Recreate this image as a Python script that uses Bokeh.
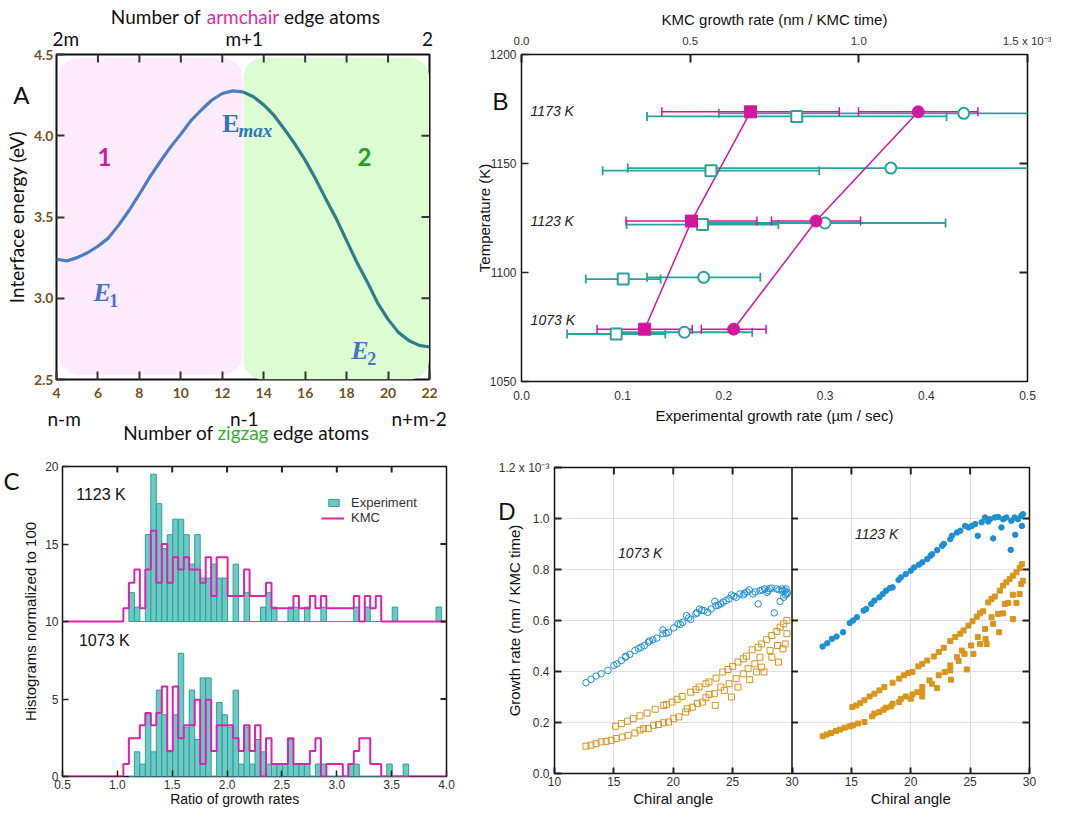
import math
from bokeh.plotting import figure
from bokeh.models import (Range1d, LinearAxis, FixedTicker, Label, BoxAnnotation, Span, Legend,
                          LegendItem, PrintfTickFormatter)
from bokeh.layouts import row, column
from bokeh.embed import file_html
from bokeh.resources import INLINE

# ======================= DATA =======================
# ---- Panel A : interface energy vs number of zigzag edge atoms
a_zigzag = [4, 4.5, 5, 5.5, 6, 6.5, 7, 7.5, 8, 8.5, 9, 9.5, 10, 10.5, 11, 11.5, 12, 12.5,
            13, 13.5, 14, 14.5, 15, 15.5, 16, 16.5, 17, 17.5, 18, 18.5, 19, 19.5, 20,
            20.5, 21, 21.5, 22]
a_energy = [3.24, 3.23, 3.25, 3.28, 3.32, 3.37, 3.45, 3.54, 3.64, 3.745, 3.84, 3.93, 4.01,
            4.095, 4.16, 4.22, 4.26, 4.276, 4.27, 4.24, 4.19, 4.125, 4.04, 3.95, 3.85,
            3.735, 3.61, 3.49, 3.355, 3.22, 3.10, 2.97, 2.87, 2.79, 2.74, 2.71, 2.70]
a_xticks = [4, 6, 8, 10, 12, 14, 16, 18, 20, 22]
a_yticks = [2.5, 3.0, 3.5, 4.0, 4.5]
a_top_labels = ["2m", "m+1", "2"]
a_bottom_labels = ["n-m", "n-1", "n+m-2"]

# ---- Panel B : growth rate vs temperature
b_exp_sq_rate = [0.0936, 0.1005, 0.1788, 0.1872, 0.272]
b_exp_sq_T = [1071.8, 1097.0, 1122.0, 1146.7, 1171.6]
b_exp_sq_err = [0.0485, 0.037, 0.075, 0.107, 0.148]
b_exp_ci_rate = [0.161, 0.18, 0.30, 0.365, 0.437]
b_exp_ci_T = [1072.6, 1097.8, 1122.7, 1147.9, 1173.0]
b_exp_ci_err = [0.067, 0.056, 0.119, 0.26, 0.242]
b_kmc_sq_rate = [0.365, 0.504, 0.679]          # x 1e-3 nm / KMC time
b_kmc_sq_T = [1074.0, 1123.6, 1173.7]
b_kmc_sq_err = [0.141, 0.194, 0.263]
b_kmc_ci_rate = [0.629, 0.873, 1.176]
b_kmc_ci_T = [1074.0, 1123.6, 1173.7]
b_kmc_ci_err = [0.096, 0.132, 0.177]
b_temp_labels = ["1173 K", "1123 K", "1073 K"]
b_temp_label_T = [1174.2, 1123.8, 1078.0]

# ---- Panel C : histograms of growth-rate ratios
c_exp_bins = [1.13, 1.18, 1.23, 1.28, 1.33, 1.38, 1.43, 1.48, 1.53, 1.58,
              1.63, 1.68, 1.73, 1.78, 1.83, 1.88, 1.93, 1.98, 2.03, 2.08,
              2.13, 2.18, 2.23, 2.28, 2.33, 2.38, 2.43, 2.48, 2.53, 2.58,
              2.63, 2.68, 2.73, 2.78, 2.83, 2.88, 2.93, 2.98, 3.03, 3.08,
              3.13, 3.18, 3.23, 3.28, 3.33, 3.38, 3.43, 3.48, 3.53, 3.58,
              3.63, 3.68, 3.73, 3.78, 3.83, 3.88, 3.93]
c_exp_1123 = [1.86, 0.93, 0, 5.6, 9.5, 7.6, 4.7, 5.6, 6.6, 6.6,
              5.6, 3.7, 5.6, 2.8, 2.8, 3.7, 2.8, 2.8, 0, 3.7,
              0, 1.86, 0, 0, 0.93, 1.86, 0.93, 0, 0, 0.93,
              0.93, 0, 0.93, 0, 0, 0.93, 0, 0, 0, 0,
              0, 0.93, 0, 0.93, 0, 0, 0, 0, 0.93, 0,
              0, 0, 0, 0, 0, 0, 0.93]
c_exp_1073 = [0, 1.59, 0.8, 3.98, 1.59, 5.57, 3.98, 1.59, 3.98, 7.95,
              3.18, 5.57, 2.39, 6.36, 6.36, 0, 4.77, 3.98, 3.18, 5.57,
              0.8, 3.18, 0.8, 2.39, 1.59, 0.8, 0.8, 0.8, 0.8, 2.39,
              0.8, 0.8, 0.8, 0, 0.8, 0.8, 0, 0, 0, 0,
              0.8, 0.8, 0, 0, 0, 0, 0, 0.8, 0, 0,
              0.8]
c_kmc_bins = [1.08, 1.13, 1.18, 1.23, 1.28, 1.33, 1.38, 1.43, 1.48, 1.53, 1.58,
              1.63, 1.68, 1.73, 1.78, 1.83, 1.88, 1.93, 1.98, 2.03, 2.08,
              2.13, 2.18, 2.23, 2.28, 2.33, 2.38, 2.43, 2.48, 2.53, 2.58,
              2.63, 2.68, 2.73, 2.78, 2.83, 2.88, 2.93, 2.98, 3.03, 3.08,
              3.13, 3.18, 3.23, 3.28, 3.33, 3.38]
c_kmc_1123 = [0.85, 2.5, 3.35, 0.85, 3.35, 5.85, 2.5, 5.0, 2.5, 4.15, 3.35,
              4.15, 3.35, 3.35, 2.5, 4.15, 1.65, 4.15, 4.15, 1.65, 1.65,
              1.65, 3.35, 1.65, 1.65, 1.65, 2.5, 0.85, 0.85, 0.85, 0.85,
              1.65, 0.85, 0.85, 1.65, 0.85, 1.65, 0.85, 0.85, 0.85, 0.85,
              0.85, 1.65, 0, 1.65, 0.85, 1.65]
c_kmc_1073 = [0.8, 2.47, 2.47, 3.3, 4.1, 3.3, 4.1, 5.8, 1.65, 5.8, 2.47,
              3.3, 3.3, 4.95, 0.8, 4.95, 1.65, 3.3, 3.3, 3.3, 2.47,
              1.65, 3.3, 1.65, 3.3, 0, 2.47, 0.8, 0.8, 0.8, 2.47,
              0.8, 0.8, 0.8, 1.65, 2.47, 0, 0.8, 0.8, 0.8, 0,
              0.8, 1.65, 2.47, 2.47, 0.8, 0.8]
c_offset_1123 = 10

# ---- Panel D : growth rate vs chiral angle (x 1e-3 nm / KMC time)
d1_ci_x = [12.65, 13.07, 13.5, 13.93, 14.5, 15.0, 15.26, 15.63, 15.97, 16.34, 16.77, 17.06,
           17.57, 17.9, 18.28, 18.62, 19.13, 19.13, 19.6, 20.04, 20.4, 20.8, 21.12, 21.47,
           21.9, 22.2, 22.6, 22.9, 23.5, 23.6, 24.0, 24.45, 24.9, 25.3, 25.6, 26.0, 26.4,
           26.7, 27.15, 27.3, 27.7, 28.0, 28.3, 28.5, 28.7, 29.0, 29.15, 29.4, 29.57, 29.5,
           29.3, 16.0, 17.3, 18.0, 19.4, 20.6, 21.3, 22.0, 22.4, 23.2, 23.8, 24.2, 24.7,
           25.1, 25.9, 26.2, 26.9, 27.5, 27.9, 28.1, 28.9, 29.2, 29.6, 29.45]
d1_ci_y = [0.356, 0.369, 0.382, 0.391, 0.404, 0.424, 0.43, 0.443, 0.456, 0.467, 0.482, 0.49,
           0.502, 0.515, 0.524, 0.531, 0.548, 0.563, 0.554, 0.571, 0.587, 0.593, 0.619, 0.604,
           0.626, 0.645, 0.639, 0.632, 0.675, 0.658, 0.665, 0.678, 0.70, 0.691, 0.704, 0.707,
           0.72, 0.704, 0.665, 0.717, 0.724, 0.717, 0.727, 0.63, 0.724, 0.675, 0.724, 0.717,
           0.704, 0.724, 0.691, 0.46, 0.495, 0.52, 0.55, 0.585, 0.61, 0.63, 0.64, 0.645,
           0.66, 0.672, 0.685, 0.695, 0.70, 0.712, 0.712, 0.72, 0.71, 0.725, 0.72, 0.715,
           0.71, 0.70]
d1_sq_up_x = [15.15, 15.63, 16.15, 16.63, 17.2, 17.8, 18.48, 19.19, 19.42, 19.9, 20.33, 20.75,
              21.47, 21.9, 22.18, 22.75, 23.0, 23.6, 24.17, 24.6, 25.0, 25.45, 25.9, 26.16,
              26.64, 27.15, 27.44, 27.87, 28.3, 28.72, 29.0, 29.3, 29.57]
d1_sq_up_y = [0.185, 0.196, 0.205, 0.215, 0.226, 0.237, 0.252, 0.267, 0.271, 0.28, 0.291, 0.302,
              0.319, 0.329, 0.339, 0.352, 0.359, 0.374, 0.398, 0.408, 0.42, 0.437, 0.45, 0.46,
              0.485, 0.495, 0.508, 0.525, 0.541, 0.557, 0.574, 0.587, 0.6]
d1_sq_lo_x = [12.65, 13.07, 13.5, 13.93, 14.35, 14.78, 15.2, 15.69, 16.2, 16.77, 17.2, 17.48,
              17.9, 18.33, 18.76, 19.19, 19.6, 20.04, 20.47, 21.04, 21.18, 21.6, 22.03, 22.46,
              22.75, 23.03, 23.46, 23.54, 24.0, 24.3, 24.7, 24.9, 25.3, 25.45, 25.9, 26.3,
              26.44, 26.87, 27.0, 27.3, 27.44, 27.64, 28.15, 28.3, 28.78, 28.86, 29.23, 29.43,
              29.57]
d1_sq_lo_y = [0.107, 0.111, 0.117, 0.124, 0.126, 0.13, 0.137, 0.143, 0.15, 0.159, 0.17, 0.176,
              0.176, 0.189, 0.192, 0.199, 0.202, 0.215, 0.222, 0.241, 0.254, 0.26, 0.274, 0.28,
              0.297, 0.31, 0.313, 0.267, 0.339, 0.326, 0.352, 0.3, 0.372, 0.339, 0.391, 0.411,
              0.368, 0.43, 0.398, 0.456, 0.417, 0.398, 0.482, 0.456, 0.502, 0.437, 0.489, 0.508,
              0.548]
d2_ci_x = [12.58, 12.97, 13.36, 13.75, 14.3, 14.86, 15.14, 15.47, 16.03, 16.25, 16.67, 16.94,
           17.36, 17.64, 17.92, 18.25, 18.47, 18.97, 19.17, 19.58, 20.0, 20.28, 20.69, 20.97,
           21.39, 21.67, 21.8, 22.22, 22.64, 22.78, 23.33, 23.47, 23.89, 24.17, 24.58, 24.86,
           25.14, 25.42, 25.64, 25.97, 26.25, 26.53, 26.67, 26.94, 27.08, 27.36, 27.64, 27.78,
           28.05, 28.42, 28.47, 28.75, 28.8, 29.03, 29.3, 29.36, 29.44]
d2_ci_y = [0.498, 0.511, 0.528, 0.537, 0.554, 0.59, 0.6, 0.613, 0.639, 0.645, 0.665, 0.678,
           0.691, 0.704, 0.717, 0.727, 0.73, 0.759, 0.769, 0.782, 0.795, 0.808, 0.819, 0.828,
           0.841, 0.854, 0.86, 0.876, 0.893, 0.9, 0.919, 0.932, 0.945, 0.952, 0.971, 0.965,
           0.971, 0.978, 0.932, 0.985, 1.004, 0.988, 0.997, 0.922, 1.004, 1.006, 0.965, 0.997,
           1.004, 0.877, 0.991, 1.004, 0.936, 0.997, 1.01, 0.971, 1.017]
d2_sq_up_x = [15.08, 15.42, 15.75, 16.1, 16.53, 16.94, 17.36, 17.78, 18.47, 19.03, 19.44, 19.8,
              20.14, 20.64, 20.97, 21.39, 21.94, 22.36, 22.78, 23.33, 23.75, 24.17, 24.44,
              24.86, 25.2, 25.56, 25.83, 26.1, 26.53, 26.8, 27.08, 27.5, 27.78, 28.05, 28.33,
              28.6, 28.9, 29.17, 29.36]
d2_sq_up_y = [0.261, 0.267, 0.276, 0.287, 0.302, 0.313, 0.326, 0.339, 0.356, 0.372, 0.385, 0.394,
              0.398, 0.42, 0.43, 0.443, 0.459, 0.476, 0.493, 0.519, 0.535, 0.548, 0.561, 0.58,
              0.597, 0.615, 0.628, 0.636, 0.671, 0.684, 0.694, 0.717, 0.737, 0.75, 0.763, 0.776,
              0.789, 0.806, 0.821]
d2_sq_lo_x = [12.58, 12.92, 13.28, 13.7, 14.03, 14.44, 14.86, 15.14, 15.56, 16.1, 16.75, 16.94,
              17.36, 17.7, 17.92, 18.33, 18.47, 19.03, 19.17, 19.58, 20.0, 20.14, 20.56, 20.97,
              20.97, 20.97, 21.58, 21.8, 22.22, 22.36, 22.86, 23.33, 23.33, 23.39, 23.89, 24.03,
              24.3, 24.53, 24.72, 25.08, 25.28, 25.64, 25.83, 26.25, 26.3, 26.39, 26.8, 26.94,
              27.36, 27.44, 27.78, 27.92, 28.2, 28.6, 28.6, 28.9, 29.17, 29.3, 29.44]
d2_sq_lo_y = [0.146, 0.153, 0.159, 0.167, 0.172, 0.18, 0.185, 0.189, 0.196, 0.202, 0.224, 0.235,
              0.241, 0.25, 0.258, 0.263, 0.274, 0.28, 0.293, 0.302, 0.293, 0.31, 0.319, 0.339,
              0.319, 0.302, 0.365, 0.352, 0.335, 0.385, 0.398, 0.424, 0.404, 0.368, 0.456, 0.441,
              0.482, 0.469, 0.408, 0.502, 0.469, 0.535, 0.508, 0.567, 0.528, 0.508, 0.613, 0.587,
              0.626, 0.554, 0.628, 0.665, 0.669, 0.606, 0.701, 0.669, 0.704, 0.743, 0.756]
d_yticks = [0.0, 0.2, 0.4, 0.6, 0.8, 1.0, 1.2]
d_left_xticks = [10, 15, 20, 25, 30]
d_right_xticks = [15, 20, 25, 30]

# ======================= STYLE =======================
SANS = "Liberation Sans"
CAL = "Lato"
MAG_B = "#d3179c"
TEAL_B = "#2aa39d"
TEAL_FILL = "#66c6c1"
TEAL_LINE = "#2b9f9a"
MAG_C = "#dd22ad"
BLUE_D = "#1e8fd2"
ORANGE_D = "#d9951c"
SUP3 = " x 10\u207b\u00b3"


def new_fig(w, h, xr, yr, bl, br, bt, bb):
    p = figure(width=w, height=h, x_range=xr, y_range=yr, output_backend="svg",
               toolbar_location=None, min_border_left=bl, min_border_right=br,
               min_border_top=bt, min_border_bottom=bb)
    try:
        p.frame_align = False
    except Exception:
        pass
    p.grid.visible = False
    p.background_fill_color = "white"
    p.border_fill_color = "white"
    p.outline_line_color = "#111111"
    p.outline_line_width = 1.5
    return p


def style_ax(ax, font=SANS, size="12px", color="#333333", bold=False, tick_in=6,
             standoff=4, tick_color="#222222", tick_width=1.5):
    ax.axis_line_color = None
    ax.major_tick_in = tick_in
    ax.major_tick_out = 0
    ax.minor_tick_in = 0
    ax.minor_tick_out = 0
    ax.major_tick_line_color = tick_color if tick_in > 0 else None
    ax.major_tick_line_width = tick_width
    ax.minor_tick_line_color = None
    ax.major_label_text_font = font
    ax.major_label_text_font_size = size
    ax.major_label_text_color = color
    ax.major_label_text_font_style = "bold" if bold else "normal"
    ax.major_label_standoff = standoff
    ax.axis_label_text_font = font
    ax.axis_label_text_font_style = "normal"
    ax.axis_label_text_color = "#111111"


def text_axis(ticks, labels, font, size, standoff, color="#111111", **kw):
    ax = LinearAxis(ticker=FixedTicker(ticks=ticks),
                    major_label_overrides=dict(zip(ticks, labels)), **kw)
    style_ax(ax, font=font, size=size, color=color, tick_in=0, standoff=standoff)
    return ax


def edge_ticks(p, xs, ys, vertical, length=7, width=2, color="#222222"):
    # inward tick marks: a dash centred on the frame edge, half of it clipped by the frame
    p.scatter(x=xs, y=ys, marker="dash", angle=math.pi / 2 if vertical else 0,
              size=2 * length, line_color=color, line_width=width)


def lab(p, text, x, y, size="15px", font=SANS, color="#111111", align="center",
        baseline="middle", style="normal", xr="default"):
    p.add_layout(Label(x=x, y=y, text=text, text_font=font, text_font_size=size,
                       text_color=color, text_align=align, text_baseline=baseline,
                       text_font_style=style, x_range_name=xr))


# ======================= PANEL A =======================
pA = new_fig(462, 454, Range1d(4, 22), Range1d(2.5, 4.5), 56, 33, 54, 75)
pA.outline_line_width = 2
pA.add_layout(BoxAnnotation(left=4.12, right=12.98, bottom=2.53, top=4.48, fill_color="#fdebfd",
                            fill_alpha=1, line_color=None, border_radius=20, level="underlay"))
pA.add_layout(BoxAnnotation(left=13.02, right=21.98, bottom=2.5, top=4.48, fill_color="#dcfcd2",
                            fill_alpha=1, line_color=None, border_radius=20, level="underlay"))
i13 = a_zigzag.index(13)
pA.line(a_zigzag[:i13 + 1], a_energy[:i13 + 1], line_color="#4a7ec4", line_width=3.2)
pA.line(a_zigzag[i13:], a_energy[i13:], line_color="#2e7e88", line_width=3.2)
edge_ticks(pA, a_xticks[1:-1], [4.5] * (len(a_xticks) - 2), True, length=8, color="#333333")
edge_ticks(pA, [22] * 3, a_yticks[1:4], False, length=8, color="#333333")

xa = pA.xaxis[0]
xa.ticker = FixedTicker(ticks=a_xticks)
style_ax(xa, font=CAL, size="14px", color="#6f5424", bold=True, tick_in=8, standoff=8,
         tick_color="#333333", tick_width=2)
ya = pA.yaxis[0]
ya.ticker = FixedTicker(ticks=a_yticks)
ya.formatter = PrintfTickFormatter(format="%.1f")
style_ax(ya, font=CAL, size="14px", color="#6f5424", bold=True, tick_in=8, standoff=3,
         tick_color="#333333", tick_width=2)
# panel letter + y title on an outer left axis
ya2 = text_axis([4.254], ["A"], CAL, "24px", 1)
ya2.axis_label = "Interface energy (eV)"
ya2.axis_label_text_font_size = "19px"
ya2.axis_label_standoff = -18
pA.add_layout(ya2, "left")
# bottom: symbolic labels and title ("zigzag" in green)
xa2 = text_axis([4.37, 13.06, 21.5], a_bottom_labels, CAL, "19px", 6)
pA.add_layout(xa2, "below")
xa3 = text_axis([9.40, 16.76], ["Number of", "edge atoms"], CAL, "19px", -12)
xa3.axis_label = "zigzag"
xa3.axis_label_text_font_size = "19px"
xa3.axis_label_text_color = "#2db52d"
xa3.axis_label_standoff = -26
pA.add_layout(xa3, "below")
# top: armchair labels and title ("armchair" in magenta)
ta1 = text_axis([4.45, 13.06, 21.9], a_top_labels, CAL, "19px", 5)
pA.add_layout(ta1, "above")
ta2 = text_axis([8.80, 17.29], ["Number of", "edge atoms"], CAL, "19px", -4)
ta2.axis_label = "armchair"
ta2.axis_label_text_font_size = "19px"
ta2.axis_label_text_color = "#dd2aa8"
ta2.axis_label_standoff = -26
pA.add_layout(ta2, "above")

lab(pA, "1", 6.32, 3.87, size="24px", font=CAL, color="#cc1f9e", style="bold")
lab(pA, "2", 18.86, 3.87, size="24px", font=CAL, color="#22a022", style="bold")
lab(pA, "E", 12.0, 4.075, size="26px", font="Liberation Serif", color="#2e75b6", style="bold",
    align="left")
lab(pA, "max", 12.78, 4.03, size="19px", font="Liberation Serif", color="#2e75b6",
    style="bold italic", align="left")
lab(pA, "E", 5.78, 3.035, size="26px", font="Liberation Serif", color="#4a72c4",
    style="bold italic", align="left")
lab(pA, "1", 6.55, 2.985, size="18px", font="Liberation Serif", color="#4a72c4", style="bold",
    align="left")
lab(pA, "E", 18.22, 2.68, size="26px", font="Liberation Serif", color="#4a72c4",
    style="bold italic", align="left")
lab(pA, "2", 18.99, 2.63, size="18px", font="Liberation Serif", color="#4a72c4", style="bold",
    align="left")

# ======================= PANEL B =======================
pB = new_fig(589, 447, Range1d(0, 0.5), Range1d(1050, 1200), 59, 24, 54, 66)
pB.extra_x_ranges = {"kmc": Range1d(0, 1.5)}


def err_bars(p, xs, ys, errs, color, lw, cap, xr="default"):
    lo = [x - e for x, e in zip(xs, errs)]
    hi = [x + e for x, e in zip(xs, errs)]
    p.segment(x0=lo, x1=hi, y0=ys, y1=ys, line_color=color, line_width=lw, x_range_name=xr)
    p.scatter(x=lo + hi, y=ys + ys, marker="dash", angle=math.pi / 2, size=cap,
              line_color=color, line_width=lw, x_range_name=xr)


err_bars(pB, b_exp_sq_rate, b_exp_sq_T, b_exp_sq_err, TEAL_B, 1.8, 9)
err_bars(pB, b_exp_ci_rate, b_exp_ci_T, b_exp_ci_err, TEAL_B, 1.8, 9)
err_bars(pB, b_kmc_sq_rate, b_kmc_sq_T, b_kmc_sq_err, MAG_B, 1.5, 9, "kmc")
err_bars(pB, b_kmc_ci_rate, b_kmc_ci_T, b_kmc_ci_err, MAG_B, 1.5, 9, "kmc")
pB.line(b_kmc_sq_rate, b_kmc_sq_T, line_color=MAG_B, line_width=1.5, x_range_name="kmc")
pB.line(b_kmc_ci_rate, b_kmc_ci_T, line_color=MAG_B, line_width=1.5, x_range_name="kmc")
pB.scatter(b_exp_sq_rate, b_exp_sq_T, marker="square", size=11, fill_color="white",
           line_color=TEAL_B, line_width=2)
pB.scatter(b_exp_ci_rate, b_exp_ci_T, marker="circle", size=11, fill_color="white",
           line_color=TEAL_B, line_width=2)
pB.scatter(b_kmc_sq_rate, b_kmc_sq_T, marker="square", size=12, fill_color=MAG_B,
           line_color=MAG_B, x_range_name="kmc")
pB.scatter(b_kmc_ci_rate, b_kmc_ci_T, marker="circle", size=12, fill_color=MAG_B,
           line_color=MAG_B, x_range_name="kmc")
edge_ticks(pB, [0.5, 0.5], [1100, 1150], False, length=8)

xb = pB.xaxis[0]
xb.ticker = FixedTicker(ticks=[0, 0.1, 0.2, 0.3, 0.4, 0.5])
xb.formatter = PrintfTickFormatter(format="%.1f")
style_ax(xb, tick_in=0, standoff=9)
xb.axis_label = "Experimental growth rate (\u00b5m / sec)"
xb.axis_label_text_font_size = "15px"
xb.axis_label_standoff = 4
yb = pB.yaxis[0]
yb.ticker = FixedTicker(ticks=[1050, 1100, 1150, 1200])
style_ax(yb, tick_in=7, standoff=5)
yb2 = text_axis([1178.4], ["B"], SANS, "24px", -22)
yb2.axis_label = "Temperature (K)"
yb2.axis_label_text_font_size = "15px"
yb2.axis_label_standoff = -4
pB.add_layout(yb2, "left")
topb = LinearAxis(x_range_name="kmc", ticker=FixedTicker(ticks=[0, 0.5, 1.0, 1.5]),
                  formatter=PrintfTickFormatter(format="%.1f"),
                  major_label_overrides={1.5: "1.5" + SUP3},
                  axis_label="KMC growth rate (nm / KMC time)")
style_ax(topb, tick_in=8, standoff=8, tick_width=2, size="11.5px")
topb.axis_label_text_font_size = "15px"
topb.axis_label_standoff = 4
pB.add_layout(topb, "above")
for t, yy in zip(b_temp_labels, b_temp_label_T):
    lab(pB, t, 0.009, yy, size="14px", style="italic", align="left", color="#222222")

# ======================= PANEL C =======================
pC = new_fig(462, 355, Range1d(0.5, 4.0), Range1d(0, 20), 55, 16, 12, 32)
up_exp = pC.vbar(x=c_exp_bins, width=0.05, bottom=c_offset_1123,
                 top=[c_offset_1123 + h for h in c_exp_1123], fill_color=TEAL_FILL,
                 fill_alpha=0.95, line_color=TEAL_LINE, line_width=1)
pC.vbar(x=c_exp_bins[:len(c_exp_1073)], width=0.05, bottom=0, top=c_exp_1073,
        fill_color=TEAL_FILL, fill_alpha=0.95, line_color=TEAL_LINE, line_width=1)


def kmc_step(p, bins, vals, base):
    edges = [b - 0.025 for b in bins] + [bins[-1] + 0.025]
    xs = [0.5] + edges + [4.0]
    ys = [base] + [base + v for v in vals] + [base, base]
    return p.step(xs, ys, mode="after", line_color=MAG_C, line_width=2)


kmc_r = kmc_step(pC, c_kmc_bins, c_kmc_1123, c_offset_1123)
kmc_step(pC, c_kmc_bins, c_kmc_1073, 0)
edge_ticks(pC, [1.0, 1.5, 2.0, 2.5, 3.0, 3.5], [20] * 6, True, length=6)
edge_ticks(pC, [4.0] * 3, [5, 10, 15], False, length=6)

xc = pC.xaxis[0]
xc.ticker = FixedTicker(ticks=[0.5, 1.0, 1.5, 2.0, 2.5, 3.0, 3.5, 4.0])
xc.formatter = PrintfTickFormatter(format="%.1f")
style_ax(xc, tick_in=6, standoff=3)
xc2 = text_axis([2.07], ["Ratio of growth rates"], SANS, "14px", -1)
pC.add_layout(xc2, "below")
yc = pC.yaxis[0]
yc.ticker = FixedTicker(ticks=[0, 5, 10, 15, 20])
style_ax(yc, tick_in=6, standoff=4)
yc.axis_label = "Histograms normalized to 100"
yc.axis_label_text_font_size = "15px"
yc.axis_label_standoff = 3
yc2 = text_axis([19.1], ["C"], CAL, "24px", 0)
pC.add_layout(yc2, "left")
lab(pC, "1123 K", 0.625, 18.2, size="16px", align="left")
lab(pC, "1073 K", 0.65, 8.77, size="16px", align="left")
leg1 = Legend(items=[LegendItem(label="Experiment", renderers=[up_exp])], location=(265, 266),
              glyph_width=13, glyph_height=9, label_standoff=11, label_height=14, padding=0,
              margin=0, spacing=0, border_line_color=None, background_fill_alpha=0,
              label_text_font=SANS, label_text_font_size="13px", label_text_color="#333333")
leg2 = Legend(items=[LegendItem(label="KMC", renderers=[kmc_r])], location=(259, 251),
              glyph_width=23, glyph_height=14, label_standoff=7, label_height=14, padding=0,
              margin=0, spacing=0, border_line_color=None, background_fill_alpha=0,
              label_text_font=SANS, label_text_font_size="13px", label_text_color="#333333")
pC.add_layout(leg1)
pC.add_layout(leg2)

# ======================= PANEL D =======================
# one frame, two sub-panels: left (1073 K) on the main x range, right (1123 K) on range "r"
pD = new_fig(589, 362, Range1d(10, 50), Range1d(0, 1.2), 92, 22, 20, 35)
pD.extra_x_ranges = {"r": Range1d(-10, 30)}
pD.xgrid.visible = True
pD.ygrid.visible = True
pD.xgrid.ticker = FixedTicker(ticks=[15, 20, 25, 35, 40, 45])
pD.ygrid.ticker = FixedTicker(ticks=d_yticks[1:6])
for g in (pD.xgrid[0], pD.ygrid[0]):
    g.grid_line_color = "#bcbcf2"
    g.grid_line_dash = "1 1"
    g.grid_line_width = 1
pD.add_layout(Span(location=30, dimension="height", line_color="#111111", line_width=1.5))
pD.segment(x0=[30] * 5, x1=[30.5] * 5, y0=d_yticks[1:6], y1=d_yticks[1:6], line_color="#222222",
           line_width=2)
edge_ticks(pD, [15, 20, 25, 35, 40, 45], [1.2] * 6, True, length=7)
edge_ticks(pD, [50] * 5, d_yticks[1:6], False, length=7)
pD.scatter(d1_ci_x, d1_ci_y, marker="circle", size=6.5, fill_color=None, line_color=BLUE_D,
           line_width=1)
pD.scatter(d1_sq_up_x + d1_sq_lo_x, d1_sq_up_y + d1_sq_lo_y, marker="square", size=6,
           fill_color=None, line_color=ORANGE_D, line_width=1)
pD.scatter(d2_ci_x, d2_ci_y, marker="circle", size=5.5, fill_color=BLUE_D, line_color=BLUE_D,
           x_range_name="r")
pD.scatter(d2_sq_up_x + d2_sq_lo_x, d2_sq_up_y + d2_sq_lo_y, marker="square", size=5,
           fill_color=ORANGE_D, line_color=ORANGE_D, x_range_name="r")

xd = pD.xaxis[0]
# tick positions on the shared frame; the right half carries the right panel's angles
xd.ticker = FixedTicker(ticks=d_left_xticks + [t + 20 for t in d_right_xticks])
xd.major_label_overrides = {t + 20: str(t) for t in d_right_xticks}
style_ax(xd, tick_in=6, standoff=3, tick_width=2)
xd2 = text_axis([20, 40], ["Chiral angle", "Chiral angle"], SANS, "15px", 1)
pD.add_layout(xd2, "below")
yd = pD.yaxis[0]
yd.ticker = FixedTicker(ticks=d_yticks)
yd.formatter = PrintfTickFormatter(format="%.1f")
yd.major_label_overrides = {1.2: "1.2" + SUP3}
style_ax(yd, tick_in=7, standoff=5, tick_width=2)
yd2 = text_axis([1.027], ["D"], SANS, "24px", -20)
yd2.axis_label = "Growth rate (nm / KMC time)"
yd2.axis_label_text_font_size = "15px"
yd2.axis_label_standoff = -28
pD.add_layout(yd2, "left")
lab(pD, "1073 K", 15.35, 0.863, size="14px", style="italic", align="left", color="#222222")
lab(pD, "1123 K", 15.3, 0.94, size="14px", style="italic", align="left", color="#222222",
    xr="r")

layout = row(column(pA, pC), column(pB, pD))
open("out.html", "w").write(file_html(layout, INLINE))
